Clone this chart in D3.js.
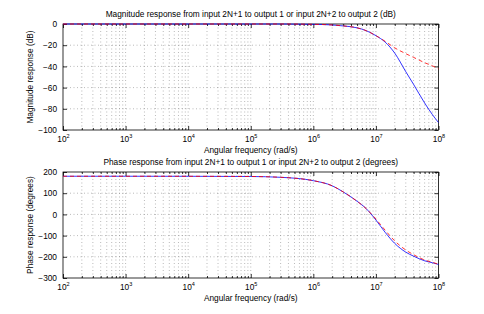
<!DOCTYPE html>
<html>
<head>
<meta charset="utf-8">
<script src="https://cdn.jsdelivr.net/npm/d3@7"></script>
<style>
body{margin:0;background:#fff;}
svg{display:block;font-family:"Liberation Sans",Arial,Helvetica,sans-serif;}
.grid line{stroke:#8c8c8c;stroke-width:0.6;stroke-dasharray:1,2.5;}
.ax path{display:none;}
.ax line{stroke:#000;stroke-width:0.8;}
.ax text{font-size:8.3px;fill:#000;font-family:"Liberation Sans",Arial,sans-serif;}
</style>
</head>
<body>
<div id="chart"></div>
<script>
// frequencies (rad/s) where values were read
var freq = [1e2,1e3,1e4,1e5,3e5,1e6,2e6,3e6,5e6,7e6,1e7,1.4e7,2e7,3e7,4e7,6e7,8e7,1e8];
// magnitude (dB)
var magBlue = [0,0,0,0,0,-0.3,-0.9,-1.8,-3.6,-6.3,-11,-17,-27.5,-45,-57,-74.5,-85.5,-93];
var magRed  = [0,0,0,0,0,-0.3,-0.9,-1.8,-3.6,-6.3,-11,-16.3,-22.5,-28,-31.5,-36.5,-39.5,-42.2];
// phase (degrees)
var phBlue = [180,180,179.8,178.8,175,159,135,106,62,27,-26.5,-84,-137,-178,-197,-219,-228,-236];
var phRed  = [180,180,179.8,178.8,175,159,135,106,62,27,-22,-74,-125,-168,-190,-215,-226,-235];

var xMajor = [1e2,1e3,1e4,1e5,1e6,1e7,1e8];
var magTicks = [-100,-80,-60,-40,-20,0];
var phTicks = [-300,-200,-100,0,100,200];

var titles = ["Magnitude response from input 2N+1 to output 1 or input 2N+2 to output 2 (dB)",
              "Phase response from input 2N+1 to output 1 or input 2N+2 to output 2 (degrees)"];
var ylabels = ["Magnitude response (dB)", "Phase response (degrees)"];
var xlabel = "Angular frequency (rad/s)";

var W = 484, H = 314;
var svg = d3.select("#chart").append("svg").attr("width", W).attr("height", H);

var left = 63, right = 438.5;
var x = d3.scaleLog().domain([1e2,1e8]).range([left, right]);

var xMinor = [];
for (var e = 2; e < 8; e++) {
  for (var k = 2; k <= 9; k++) xMinor.push(k * Math.pow(10, e));
}

function drawPanel(top, bottom, domain, ticks, blue, red, title, ylab) {
  var y = d3.scaleLinear().domain(domain).range([bottom, top]);
  var g = svg.append("g");

  // grid
  var grid = g.append("g").attr("class", "grid");
  grid.selectAll(".vx").data(xMajor.slice(1, -1).concat(xMinor)).enter().append("line")
    .attr("x1", function(d){ return x(d); }).attr("x2", function(d){ return x(d); })
    .attr("y1", top).attr("y2", bottom);
  grid.selectAll(".hy").data(ticks.slice(1, -1)).enter().append("line")
    .attr("x1", left).attr("x2", right)
    .attr("y1", function(d){ return y(d); }).attr("y2", function(d){ return y(d); });

  // axes (ticks inside)
  var xb = g.append("g").attr("class", "ax").attr("transform", "translate(0," + bottom + ")")
    .call(d3.axisBottom(x).tickValues(xMajor).tickSize(-4).tickPadding(6).tickFormat(function(){ return ""; }));
  xb.selectAll(".tick text").each(function(d) {
    var t = d3.select(this);
    t.append("tspan").text("10");
    t.append("tspan").attr("dy", "-3.5").attr("font-size", "5.5px").text(Math.round(Math.log10(d)));
  });
  g.append("g").attr("class", "ax").attr("transform", "translate(0," + bottom + ")")
    .call(d3.axisBottom(x).tickValues(xMinor).tickSize(-2).tickFormat(""));
  g.append("g").attr("class", "ax").attr("transform", "translate(0," + top + ")")
    .call(d3.axisTop(x).tickValues(xMajor).tickSize(-4).tickFormat(""));
  g.append("g").attr("class", "ax").attr("transform", "translate(0," + top + ")")
    .call(d3.axisTop(x).tickValues(xMinor).tickSize(-2).tickFormat(""));
  g.append("g").attr("class", "ax").attr("transform", "translate(" + left + ",0)")
    .call(d3.axisLeft(y).tickValues(ticks).tickSize(-4).tickPadding(6)
      .tickFormat(function(d){ return d < 0 ? "\u2212" + (-d) : d; }));
  g.append("g").attr("class", "ax").attr("transform", "translate(" + right + ",0)")
    .call(d3.axisRight(y).tickValues(ticks).tickSize(-4).tickFormat(""));

  // box
  g.append("rect").attr("x", left).attr("y", top).attr("width", right - left).attr("height", bottom - top)
    .attr("fill", "none").attr("stroke", "#000").attr("stroke-width", 0.8);

  // lines
  var line = d3.line().x(function(d, i){ return x(freq[i]); }).y(function(d){ return y(d); })
    .curve(d3.curveMonotoneX);
  g.append("path").datum(blue).attr("d", line).attr("fill", "none")
    .attr("stroke", "#0000ff").attr("stroke-width", 0.8);
  g.append("path").datum(red).attr("d", line).attr("fill", "none")
    .attr("stroke", "#ff0000").attr("stroke-width", 0.8).attr("stroke-dasharray", "4,3");

  // texts
  g.append("text").attr("x", (left + right) / 2).attr("y", top - 7).attr("text-anchor", "middle")
    .attr("font-size", "8.3px").text(title);
  g.append("text").attr("transform", "translate(33," + ((top + bottom) / 2) + ") rotate(-90)")
    .attr("text-anchor", "middle").attr("font-size", "8.3px").text(ylab);
  g.append("text").attr("x", (left + right) / 2).attr("y", bottom + 23).attr("text-anchor", "middle")
    .attr("font-size", "8.3px").text(xlabel);
}

drawPanel(24, 130, [-100, 0], magTicks, magBlue, magRed, titles[0], ylabels[0]);
drawPanel(172, 278, [-300, 200], phTicks, phBlue, phRed, titles[1], ylabels[1]);
</script>
</body>
</html>
